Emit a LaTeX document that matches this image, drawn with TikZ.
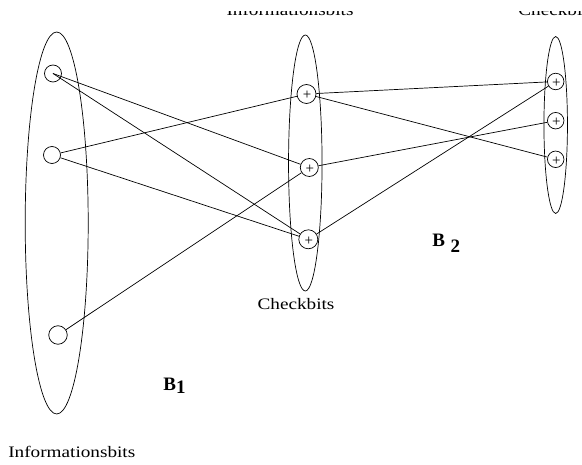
\documentclass[tikz,border=0pt]{standalone}
\usepackage{fontspec}
\setmainfont{Liberation Serif}
\usetikzlibrary{shapes.geometric}
\newcommand{\widetext}[1]{\scalebox{1.2}[1]{#1}}
\begin{document}
\begin{tikzpicture}[x=1pt,y=-1pt,line width=0.7pt,
  grp/.style={draw,ellipse,inner sep=0pt},
  bit/.style={draw,circle,minimum size=17pt,inner sep=0pt},
  chk/.style={bit,label={[inner sep=0pt,xshift=0.6pt,yshift=-1.6pt,font=\fontsize{15}{15}\selectfont]center:+}},
  lbl/.style={inner sep=0pt,font=\fontsize{16}{18}\selectfont},
  bl/.style={inner sep=0pt,font=\fontsize{19}{21}\selectfont\bfseries}]
\useasboundingbox (0,0) rectangle (582,465);
% group ellipses
\node[grp,minimum width=63pt,minimum height=382pt] (L) at (56.7,223) {};
\node[grp,minimum width=33.5pt,minimum height=256pt] (M) at (305.3,163) {};
\node[grp,minimum width=23.5pt,minimum height=177pt] (R) at (555.7,125) {};
% information bits
\node[bit] (a1) at (53,73.5) {};
\node[bit] (a2) at (52,155) {};
\node[bit,minimum size=18.5pt] (a3) at (58,335) {};
% first-level check bits
\node[chk,minimum size=19pt] (m1) at (306.5,94) {};
\node[chk,minimum size=18pt] (m2) at (309.3,167.5) {};
\node[chk,minimum size=19pt] (m3) at (308.3,239.3) {};
% second-level check bits
\node[chk,minimum size=16.5pt] (r1) at (555.7,81.5) {};
\node[chk,minimum size=16.5pt] (r2) at (555.7,120.7) {};
\node[chk,minimum size=16.5pt] (r3) at (555.7,159.3) {};
% connections
\draw (a1.center) -- (m2);
\draw (a1.center) -- (m3);
\draw (a2) -- (m1);
\draw (a2) -- (m3);
\draw (a3) -- (m2);
\draw (m1) -- (r1);
\draw (m1) -- (r3);
\draw (m2) -- (r2);
\draw (m3) -- (r1);
% labels
\node[lbl,anchor=base] (ck) at (296,310) {\widetext{Checkbits}};
\node[lbl,anchor=base west] (ib) at (8,458) {\widetext{Informationsbits}};
\node[bl,anchor=base west] (b1) at (163,391) {B\raisebox{-0.3ex}{1}};
\node[bl,anchor=base west] (b2) at (432,247) {B\hspace{0.3em}\raisebox{-0.6ex}{2}};
% clipped titles at the top
\node[lbl,anchor=base] (tinf) at (290,15.5) {\widetext{Informationsbits}};
\node[lbl,anchor=base west] (tchk) at (518,15.5) {\widetext{Checkbits}};
\fill[white] (0,0) rectangle (582,11.3);
\end{tikzpicture}
\end{document}
